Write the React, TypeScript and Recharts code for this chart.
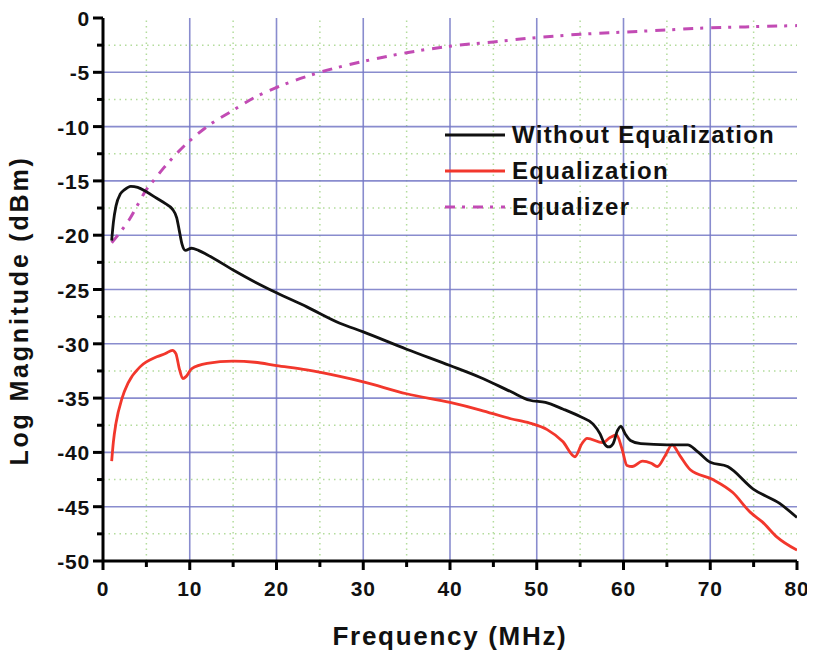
import { LineChart, Line, XAxis, YAxis, ReferenceLine, Legend } from "recharts";

// Equalizer response (dash-dot magenta)
const eqFreq = [1, 2, 3, 4, 5, 6, 7, 8, 10, 12, 15, 17.5, 20, 25, 30, 35, 40, 45, 50, 55, 60, 65, 70, 75, 80];
const eqVals = [-20.7, -19.7, -18.6, -17.2, -15.8, -14.8, -13.8, -12.9, -11.3, -10.0, -8.5, -7.3, -6.4, -5.0, -4.0, -3.2, -2.6, -2.2, -1.8, -1.5, -1.3, -1.1, -0.9, -0.8, -0.7];

// Without equalization (black)
const rawFreq = [
  1, 1.2, 1.5, 2, 2.5, 3.2, 4, 5, 6.2, 7.2, 8, 8.5, 8.8, 9.1, 9.5, 10.2, 11, 12, 15, 17.5, 20, 23.5, 27.3, 30, 35,
  40, 43.5, 47, 49.2, 51, 53, 55, 56.5, 57.3, 57.8, 58.3, 58.8, 59.3, 59.7, 60.2, 60.8, 62, 65, 67.4, 68.5, 70, 72,
  75, 78, 80,
];
const rawVals = [
  -20.5, -18.8, -17.3, -16.2, -15.8, -15.5, -15.6, -16.0, -16.6, -17.1, -17.6, -18.4, -19.6, -20.8, -21.4, -21.2,
  -21.4, -21.8, -23.2, -24.3, -25.3, -26.6, -28.1, -28.9, -30.5, -32.0, -33.1, -34.4, -35.2, -35.4, -36.0, -36.7,
  -37.4, -38.3, -39.2, -39.5, -39.2, -38.0, -37.6, -38.3, -38.9, -39.2, -39.3, -39.3, -39.9, -40.9, -41.3, -43.4,
  -44.7, -46.0,
];

// With equalization (red)
const equFreq = [
  1, 1.2, 1.5, 2.2, 2.9, 4.3, 6.2, 7.2, 8, 8.4, 8.8, 9.2, 9.6, 10.2, 12, 15, 17.5, 20, 23.5, 27.3, 30, 35, 40, 43.5,
  47, 49.2, 51.2, 53, 54.4, 55.2, 55.8, 57.6, 58.5, 59.2, 59.8, 60.4, 61, 62.2, 63.2, 63.9, 64.8, 65.6, 66.5, 67.7,
  70.3, 72.6, 74.6, 76, 77.7, 80,
];
const equVals = [
  -40.8, -39.0, -37.3, -35.0, -33.6, -32.1, -31.2, -30.9, -30.6, -30.9, -32.3, -33.2, -33.0, -32.3, -31.8, -31.6,
  -31.7, -32.0, -32.4, -33.0, -33.5, -34.6, -35.4, -36.1, -36.9, -37.3, -37.9, -39.0, -40.4, -39.2, -38.7, -39.1,
  -38.6, -38.4, -39.6, -41.2, -41.3, -40.8, -41.0, -41.3, -40.3, -39.3, -40.3, -41.6, -42.5, -43.7, -45.5, -46.4,
  -47.8, -49.0,
];

// axis ticks and grid positions
const xTicks = [0, 5, 10, 15, 20, 25, 30, 35, 40, 45, 50, 55, 60, 65, 70, 75, 80];
const yTicks = [0, -2.5, -5, -7.5, -10, -12.5, -15, -17.5, -20, -22.5, -25, -27.5, -30, -32.5, -35, -37.5, -40, -42.5, -45, -47.5, -50];
const xMajorGrid = [10, 20, 30, 40, 50, 60, 70];
const yMajorGrid = [-5, -10, -15, -20, -25, -30, -35, -40, -45];
const xMinorGrid = [5, 15, 25, 35, 45, 55, 65, 75];
const yMinorGrid = [-2.5, -7.5, -12.5, -17.5, -22.5, -27.5, -32.5, -37.5, -42.5, -47.5];

const zip = (fs: number[], vs: number[]) => fs.map((f, i) => ({ f, v: vs[i] }));
const eqData = zip(eqFreq, eqVals);
const rawData = zip(rawFreq, rawVals);
const equData = zip(equFreq, equVals);

const FONT = '"Liberation Sans", Arial, sans-serif';
const MAJOR = "#7478c6";
const MINOR = "#b3dc9c";

const series = [
  { name: "Without Equalization", color: "#111111", dash: undefined as string | undefined },
  { name: "Equalization", color: "#f2372c", dash: undefined as string | undefined },
  { name: "Equalizer", color: "#c24bb4", dash: "10 7 3 8" },
];

const XTick = (props: any) => {
  const { x, y, payload } = props;
  const major = payload.value % 10 === 0;
  return (
    <g>
      <line x1={x} x2={x} y1={y} y2={y + (major ? 9 : 6)} stroke="#000" strokeWidth={3} />
      {major && (
        <text x={x} y={y + 35} textAnchor="middle" fontFamily={FONT} fontWeight="bold" fontSize={21} letterSpacing={0.8} fill="#111">
          {payload.value}
        </text>
      )}
    </g>
  );
};

const YTick = (props: any) => {
  const { x, y, payload } = props;
  const major = payload.value % 5 === 0;
  return (
    <g>
      <line x1={x} x2={x - (major ? 10 : 6)} y1={y} y2={y} stroke="#000" strokeWidth={3} />
      {major && (
        <text x={x - 13} y={y + 8} textAnchor="end" fontFamily={FONT} fontWeight="bold" fontSize={21} letterSpacing={0.8} fill="#111">
          {payload.value}
        </text>
      )}
    </g>
  );
};

const YTitle = (props: any) => {
  const { x, y, height } = props.viewBox;
  const cx = x + 15;
  const cy = y + height / 2 + 21;
  return (
    <g transform={`translate(${cx} ${cy}) rotate(-90)`}>
      <text
        x={0}
        y={0}
        textAnchor="middle"
        fontFamily={FONT}
        fontWeight="bold"
        fontSize={25}
        letterSpacing={2.8}
        fill="#111"
      >
        Log Magnitude (dBm)
      </text>
    </g>
  );
};

const XTitle = (props: any) => {
  const { x, y, width } = props.viewBox;
  return (
    <text
      x={x + width / 2}
      y={y + 84}
      textAnchor="middle"
      fontFamily={FONT}
      fontWeight="bold"
      fontSize={26}
      letterSpacing={1.7}
      fill="#111"
    >
      Frequency (MHz)
    </text>
  );
};

const renderLegend = () => (
  <div style={{ fontFamily: FONT }}>
    {series.map((s) => (
      <div key={s.name} style={{ display: "flex", alignItems: "center", height: 36 }}>
        <svg width={60} height={10} style={{ marginRight: 7 }}>
          <line x1={0} x2={60} y1={5} y2={5} stroke={s.color} strokeWidth={3} strokeDasharray={s.dash} />
        </svg>
        <span style={{ fontSize: 24, fontWeight: "bold", letterSpacing: 1.3, color: "#111", whiteSpace: "nowrap" }}>
          {s.name}
        </span>
      </div>
    ))}
  </div>
);

const ax = { xAxisId: "main", yAxisId: "main" };

export default function App() {
  return (
    <LineChart width={807} height={650} margin={{ top: 10, right: 18, left: 5, bottom: 5 }}>
      <XAxis
        xAxisId="main"
        type="number"
        dataKey="f"
        domain={[0, 80]}
        ticks={xTicks}
        interval={0}
        height={92}
        tick={<XTick />}
        tickLine={false}
        tickSize={0}
        tickMargin={0}
        axisLine={{ stroke: "#000", strokeWidth: 3 }}
        allowDataOverflow
        label={<XTitle />}
      />
      <YAxis
        yAxisId="main"
        type="number"
        domain={[-50, 0]}
        ticks={yTicks}
        interval={0}
        width={90}
        tick={<YTick />}
        tickLine={false}
        tickSize={0}
        tickMargin={0}
        axisLine={{ stroke: "#000", strokeWidth: 3 }}
        allowDataOverflow
        label={<YTitle />}
      />
      {xMinorGrid.map((v) => (
        <ReferenceLine key={`xm${v}`} {...ax} x={v} stroke={MINOR} strokeWidth={1.5} strokeDasharray="1.5 4" />
      ))}
      {yMinorGrid.map((v) => (
        <ReferenceLine key={`ym${v}`} {...ax} y={v} stroke={MINOR} strokeWidth={1.5} strokeDasharray="1.5 4" />
      ))}
      {xMajorGrid.map((v) => (
        <ReferenceLine key={`xM${v}`} {...ax} x={v} stroke={MAJOR} strokeWidth={1.6} strokeOpacity={0.85} />
      ))}
      {yMajorGrid.map((v) => (
        <ReferenceLine key={`yM${v}`} {...ax} y={v} stroke={MAJOR} strokeWidth={1.6} strokeOpacity={0.85} />
      ))}
      <Legend
        layout="vertical"
        align="center"
        verticalAlign="middle"
        content={renderLegend}
        wrapperStyle={{ left: 437, top: 109, width: 360 }}
      />
      <Line
        {...ax}
        data={eqData}
        dataKey="v"
        name="Equalizer"
        type="monotone"
        stroke={series[2].color}
        strokeWidth={3}
        strokeDasharray={series[2].dash}
        dot={false}
        isAnimationActive={false}
      />
      <Line
        {...ax}
        data={equData}
        dataKey="v"
        name="Equalization"
        type="monotone"
        stroke={series[1].color}
        strokeWidth={2.8}
        dot={false}
        isAnimationActive={false}
      />
      <Line
        {...ax}
        data={rawData}
        dataKey="v"
        name="Without Equalization"
        type="monotone"
        stroke={series[0].color}
        strokeWidth={2.8}
        dot={false}
        isAnimationActive={false}
      />
    </LineChart>
  );
}
